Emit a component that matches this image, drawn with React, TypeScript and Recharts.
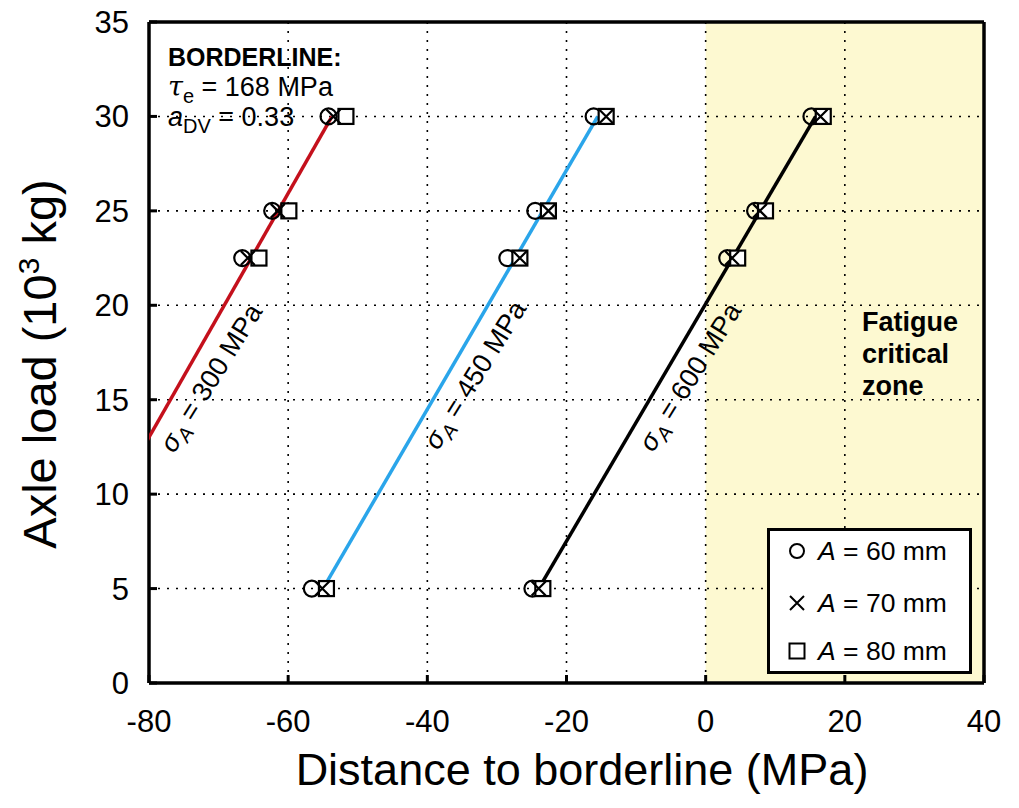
import React from "react";
import {
  ComposedChart,
  Scatter,
  XAxis,
  YAxis,
  CartesianGrid,
  ReferenceArea,
  Legend,
} from "recharts";

const W = 1005;
const H = 803;
const TOP = 8; // extra room above the plot so the top tick label is not clipped
const FONT = "'Liberation Sans', Arial, sans-serif";

const xTicks = [-80, -60, -40, -20, 0, 20, 40];
const yTicks = [0, 5, 10, 15, 20, 25, 30, 35];

// axle loads (10^3 kg)
const loads300 = [22.5, 25, 30];
const loads = [5, 22.5, 25, 30];

// distance to borderline (MPa), sigma_A = 300 MPa
const s300A60 = [-66.6, -62.3, -54.2];
const s300A70 = [-65.8, -61.5, -53.5];
const s300A80 = [-64.2, -59.9, -51.7];
// sigma_A = 450 MPa
const s450A60 = [-56.6, -28.5, -24.5, -16.1];
const s450A70 = [-55.1, -26.7, -22.6, -14.3];
const s450A80 = [-54.5, -26.7, -22.6, -14.3];
// sigma_A = 600 MPa
const s600A60 = [-24.9, 3.1, 7.1, 15.2];
const s600A70 = [-24.0, 3.8, 7.8, 16.5];
const s600A80 = [-23.4, 4.6, 8.6, 16.9];

// trend lines
const fitLoads = [5, 30];
const fit300 = [-92.4, -53.7];
const fit450 = [-55.0, -15.5];
const fit600 = [-24.0, 15.8];

const legendLabels = ["60", "70", "80"];

const pts = (xs: number[], ys: number[]) => xs.map((x, i) => ({ x, y: ys[i] }));

const CircleMark = (p: any) => (
  <circle cx={p.cx} cy={p.cy} r={8} fill="none" stroke="#000" strokeWidth={2.2} />
);
const SquareMark = (p: any) => (
  <rect x={p.cx - 7.5} y={p.cy - 7.5} width={15} height={15} fill="#fff" stroke="#000" strokeWidth={2.2} />
);
const CrossMark = (p: any) => (
  <path
    d={`M${p.cx - 7},${p.cy - 7}L${p.cx + 7},${p.cy + 7}M${p.cx - 7},${p.cy + 7}L${p.cx + 7},${p.cy - 7}`}
    stroke="#000"
    strokeWidth={2.2}
  />
);
const NoMark = () => <g />;

const XTick = ({ x, y, payload }: any) => (
  <text x={x} y={y} dy={57} textAnchor="middle" fontFamily={FONT} fontSize={31} fill="#000">
    {payload.value}
  </text>
);
const YTick = ({ x, y, payload }: any) => (
  <text x={x} y={y} dy={11} textAnchor="end" fontFamily={FONT} fontSize={31} fill="#000">
    {payload.value}
  </text>
);

const markerFor = (i: number) => {
  if (i === 0) return <circle cx={10} cy={10} r={7} fill="none" stroke="#000" strokeWidth={2} />;
  if (i === 1) return <path d="M3,3L17,17M3,17L17,3" stroke="#000" strokeWidth={2} />;
  return <rect x={2.5} y={2.5} width={15} height={15} fill="none" stroke="#000" strokeWidth={2} />;
};

const rowCenters = [23, 75, 123];

const LegendBox = () => (
  <div
    style={{
      width: 205,
      height: 146,
      boxSizing: "border-box",
      border: "3px solid #000",
      background: "#fff",
      position: "relative",
      fontFamily: FONT,
      fontSize: 26.5,
      color: "#000",
    }}
  >
    {legendLabels.map((lab, i) => (
      <div
        key={lab}
        style={{
          position: "absolute",
          left: 17,
          top: rowCenters[i] - 19,
          height: 32,
          display: "flex",
          alignItems: "center",
          whiteSpace: "nowrap",
        }}
      >
        <svg width={20} height={20} style={{ marginRight: 11 }}>
          {markerFor(i)}
        </svg>
        <span>
          <i>A</i> = {lab} mm
        </span>
      </div>
    ))}
  </div>
);

const StressLabel = ({ cx, cy, value }: { cx: number; cy: number; value: string }) => (
  <g transform={`translate(${cx},${cy}) rotate(-58)`}>
    <text x={0} y={9} textAnchor="middle" fontFamily={FONT} fontSize={27} fill="#000">
      <tspan fontStyle="italic">σ</tspan>
      <tspan fontStyle="italic" fontSize={20} dy={6}>A</tspan>
      <tspan dy={-6}>{` = ${value} MPa`}</tspan>
    </text>
  </g>
);

export default function App() {
  return (
    <div style={{ position: "relative", width: W, height: H, marginTop: -TOP }}>
      <ComposedChart width={W} height={H} margin={{ top: 13 + TOP, right: 28, bottom: 0, left: 0 }}>
        <ReferenceArea x1={0} x2={40} y1={0} y2={35} fill="#fdf9d1" fillOpacity={1} stroke="none" zIndex={-200} />
        <CartesianGrid stroke="#000" strokeDasharray="2 7" strokeWidth={1.6} />
        <XAxis
          type="number"
          dataKey="x"
          domain={[-80, 40]}
          ticks={xTicks}
          allowDataOverflow
          height={120}
          axisLine={{ stroke: "#000", strokeWidth: 3.5 }}
          tickLine={{ stroke: "#000", strokeWidth: 3 }}
          tickSize={-8}
          tickMargin={0}
          tick={<XTick />}
        />
        <XAxis
          xAxisId="top"
          orientation="top"
          type="number"
          domain={[-80, 40]}
          ticks={xTicks}
          height={1}
          axisLine={{ stroke: "#000", strokeWidth: 3.5 }}
          tickLine={{ stroke: "#000", strokeWidth: 3 }}
          tickSize={-8}
          tick={false}
        />
        <YAxis
          type="number"
          dataKey="y"
          domain={[0, 35]}
          ticks={yTicks}
          allowDataOverflow
          width={141}
          axisLine={{ stroke: "#000", strokeWidth: 3.5 }}
          tickLine={{ stroke: "#000", strokeWidth: 3 }}
          tickSize={-8}
          tickMargin={28}
          tick={<YTick />}
        />
        <YAxis
          yAxisId="right"
          orientation="right"
          type="number"
          domain={[0, 35]}
          ticks={yTicks}
          width={1}
          axisLine={{ stroke: "#000", strokeWidth: 3.5 }}
          tickLine={{ stroke: "#000", strokeWidth: 3 }}
          tickSize={-8}
          tick={false}
        />

        <Scatter data={pts(fit300, fitLoads)} line={{ stroke: "#c4101c", strokeWidth: 3.5 }} shape={<NoMark />} isAnimationActive={false} />
        <Scatter data={pts(fit450, fitLoads)} line={{ stroke: "#2aa5ea", strokeWidth: 3.5 }} shape={<NoMark />} isAnimationActive={false} />
        <Scatter data={pts(fit600, fitLoads)} line={{ stroke: "#000", strokeWidth: 3.5 }} shape={<NoMark />} isAnimationActive={false} />

        <Scatter data={pts(s300A60, loads300)} shape={<CircleMark />} isAnimationActive={false} />
        <Scatter data={pts(s450A60, loads)} shape={<CircleMark />} isAnimationActive={false} />
        <Scatter data={pts(s600A60, loads)} shape={<CircleMark />} isAnimationActive={false} />
        <Scatter data={pts(s300A80, loads300)} shape={<SquareMark />} isAnimationActive={false} />
        <Scatter data={pts(s450A80, loads)} shape={<SquareMark />} isAnimationActive={false} />
        <Scatter data={pts(s600A80, loads)} shape={<SquareMark />} isAnimationActive={false} />
        <Scatter data={pts(s300A70, loads300)} shape={<CrossMark />} isAnimationActive={false} />
        <Scatter data={pts(s450A70, loads)} shape={<CrossMark />} isAnimationActive={false} />
        <Scatter data={pts(s600A70, loads)} shape={<CrossMark />} isAnimationActive={false} />

        <Legend
          layout="horizontal"
          verticalAlign="middle"
          align="center"
          content={<LegendBox />}
          wrapperStyle={{ left: 759, top: 520 + TOP, width: 205, height: 146 }}
        />
      </ComposedChart>

      <svg
        width={W}
        height={H}
        style={{ position: "absolute", left: 0, top: 0, pointerEvents: "none" }}
      >
        <g fontFamily={FONT} fill="#000" transform={`translate(0,${TOP})`}>
          <text x={160} y={58} fontSize={25} fontWeight="bold">BORDERLINE:</text>
          <text x={160} y={88} fontSize={27}>
            <tspan fontStyle="italic" fontFamily="'DejaVu Serif', serif">τ</tspan>
            <tspan fontSize={20} dy={7}>e</tspan>
            <tspan dy={-7}> = 168 MPa</tspan>
          </text>
          <text x={160} y={118} fontSize={27}>
            <tspan fontStyle="italic">a</tspan>
            <tspan fontSize={20} dy={7}>DV</tspan>
            <tspan dy={-7}> = 0.33</tspan>
          </text>

          <text x={854} y={323} fontSize={27} fontWeight="bold">Fatigue</text>
          <text x={854} y={355} fontSize={27} fontWeight="bold">critical</text>
          <text x={854} y={387} fontSize={27} fontWeight="bold">zone</text>

          <StressLabel cx={203} cy={370} value="300" />
          <StressLabel cx={467} cy={367} value="450" />
          <StressLabel cx={682} cy={369} value="600" />

          <text x={574} y={777} fontSize={45} textAnchor="middle">
            Distance to borderline (MPa)
          </text>
          <text transform="translate(48,356) rotate(-90)" fontSize={47} textAnchor="middle">
            Axle load (10<tspan fontSize={30} dy={-17}>3</tspan>
            <tspan dy={17}> kg)</tspan>
          </text>
        </g>
      </svg>
    </div>
  );
}
